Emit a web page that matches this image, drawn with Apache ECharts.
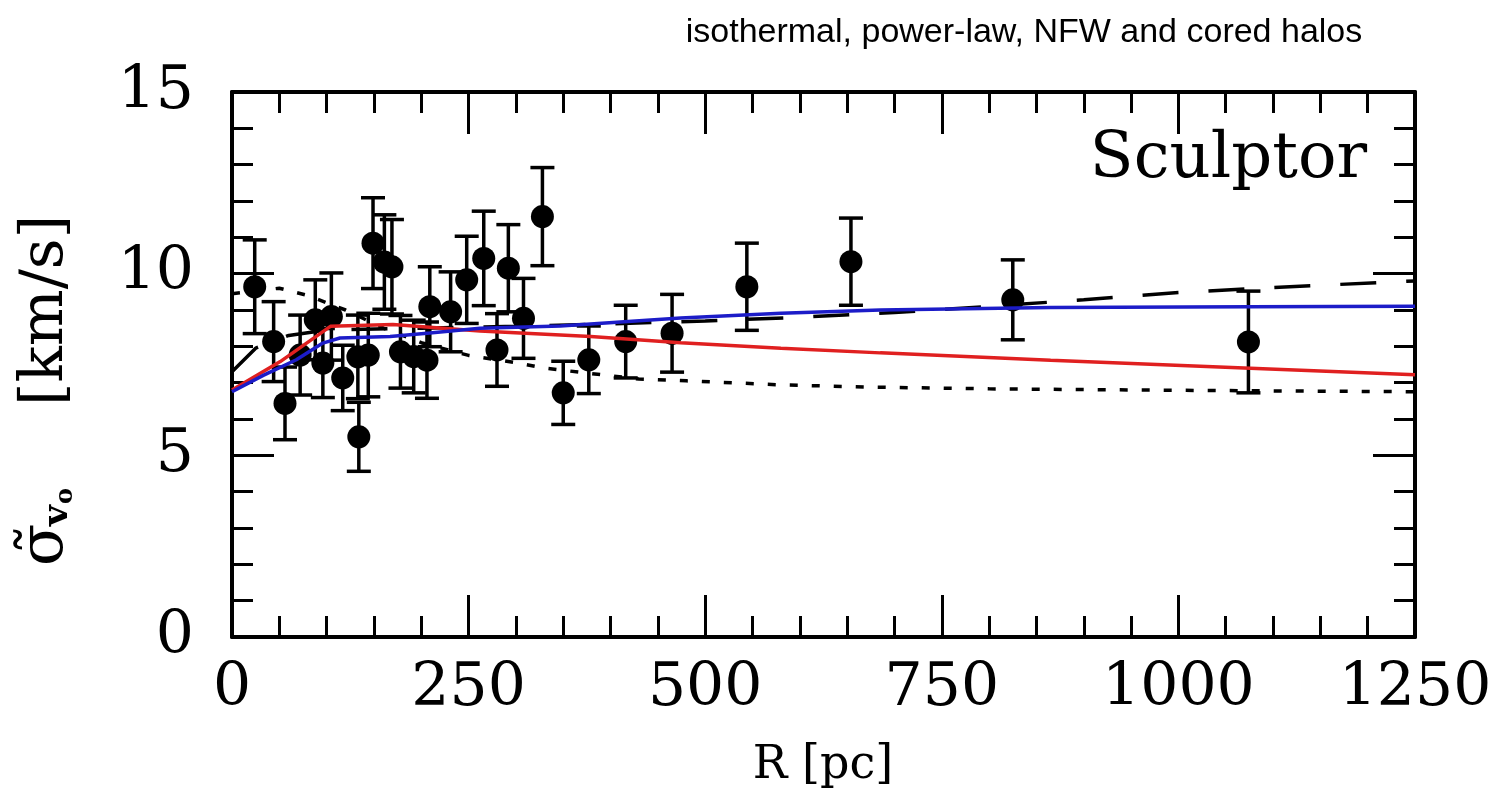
<!DOCTYPE html>
<html><head><meta charset="utf-8">
<script src="https://cdn.jsdelivr.net/npm/echarts@6/dist/echarts.min.js"></script>
<style>html,body{margin:0;padding:0;background:#fff}#c{width:1505px;height:800px}</style>
</head><body><div id="c"></div>
<script>
// ---- data ----
const xTickValues = [0, 250, 500, 750, 1000, 1250];
const yTickValues = [0, 5, 10, 15];
const titleText = 'isothermal, power-law, NFW and cored halos';
const galaxyLabel = 'Sculptor';
const xAxisTitle = 'R [pc]';

// binned velocity dispersion profile: radius [pc], sigma [km/s], error [km/s]
const obsR     = [24, 44, 56, 72, 88, 105, 96, 117, 133, 144, 134, 149, 161, 169, 178, 192, 206, 209, 231, 248, 266, 280, 292, 308, 328, 350, 377, 416, 465, 544, 654, 825, 1074];
const obsSigma = [9.64, 8.13, 6.43, 7.76, 8.73, 8.82, 7.54, 7.13, 7.71, 7.76, 5.51, 10.84, 10.32, 10.19, 7.85, 7.72, 7.62, 9.09, 8.95, 9.83, 10.42, 7.9, 10.15, 8.77, 11.57, 6.72, 7.63, 8.13, 8.36, 9.64, 10.33, 9.28, 8.12];
const obsErr   = [1.29, 1.1, 1.0, 1.1, 1.1, 1.2, 0.95, 0.9, 1.15, 1.15, 0.95, 1.25, 1.3, 1.3, 1.0, 1.0, 1.05, 1.1, 1.1, 1.2, 1.3, 1.0, 1.2, 1.1, 1.35, 0.87, 0.93, 1.0, 1.07, 1.2, 1.2, 1.1, 1.4];

// model curves [R, sigma]
const curveRed = [[0,6.8],[51,7.58],[104,8.55],[170,8.6],[262,8.42],[379,8.27],[474,8.1],[580,7.95],[685,7.82],[865,7.62],[1076,7.4],[1250,7.22]];
const curveBlue = [[0,6.75],[33,7.2],[68,7.63],[96,8.09],[114,8.23],[167,8.27],[209,8.37],[262,8.5],[347,8.56],[474,8.78],[580,8.91],[685,9.0],[865,9.07],[1076,9.09],[1250,9.1]];
const curveDashed = [[0,7.3],[25,7.95],[60,8.3],[100,8.45],[200,8.5],[300,8.55],[400,8.62],[500,8.7],[600,8.8],[700,8.93],[800,9.1],[900,9.28],[1000,9.48],[1100,9.62],[1250,9.8]];
const curveDotted = [[0,9.45],[50,9.6],[80,9.4],[120,9.0],[160,8.5],[200,8.1],[250,7.75],[300,7.55],[330,7.4],[390,7.22],[430,7.1],[480,7.05],[580,6.94],[670,6.88],[800,6.83],[1000,6.79],[1250,6.75]];

// ---- chart ----
const obsData = obsR.map((r, i) => [r, obsSigma[i], obsErr[i]]);
const SERIF = 'DejaVu Serif';
const frame = {color: '#000', width: 4};
function plain(v) { return String(v); }
function xAx(pos, showLabel) {
  return {
    type: 'value', position: pos, min: xTickValues[0], max: xTickValues[xTickValues.length - 1],
    interval: xTickValues[1] - xTickValues[0],
    axisLine: {show: true, onZero: false, lineStyle: frame},
    axisTick: {show: true, inside: true, length: 42, lineStyle: {color: '#000', width: 3}},
    minorTick: {show: true, splitNumber: 5, length: 21, lineStyle: {color: '#000', width: 3}},
    splitLine: {show: false}, minorSplitLine: {show: false},
    axisLabel: {show: showLabel, formatter: plain, fontFamily: SERIF, fontSize: 60, color: '#000', margin: 22}
  };
}
function yAx(pos, showLabel) {
  return {
    type: 'value', position: pos, min: yTickValues[0], max: yTickValues[yTickValues.length - 1],
    interval: yTickValues[1] - yTickValues[0],
    axisLine: {show: true, onZero: false, lineStyle: frame},
    axisTick: {show: true, inside: true, length: 42, lineStyle: {color: '#000', width: 3}},
    minorTick: {show: true, splitNumber: 5, length: 21, lineStyle: {color: '#000', width: 3}},
    splitLine: {show: false}, minorSplitLine: {show: false},
    axisLabel: {show: showLabel, formatter: plain, fontFamily: SERIF, fontSize: 60, color: '#000', margin: 38}
  };
}

const chart = echarts.init(document.getElementById('c'), null, {renderer: 'canvas'});
chart.setOption({
  backgroundColor: '#fff',
  animation: false,
  grid: {left: 232, right: 90, top: 92, bottom: 163, containLabel: false},
  xAxis: [xAx('bottom', true), xAx('top', false)],
  yAxis: [yAx('left', true), yAx('right', false)],
  series: [
    {
      type: 'custom', xAxisIndex: 0, yAxisIndex: 0, data: obsData, z: 2,
      renderItem: function (params, api) {
        const x = api.value(0), y = api.value(1), e = api.value(2);
        const t = api.coord([x, y + e]), b = api.coord([x, y - e]);
        const hw = 12, st = {stroke: '#000', lineWidth: 3.5};
        return {type: 'group', children: [
          {type: 'line', shape: {x1: t[0], y1: t[1], x2: b[0], y2: b[1]}, style: st},
          {type: 'line', shape: {x1: t[0] - hw, y1: t[1], x2: t[0] + hw, y2: t[1]}, style: st},
          {type: 'line', shape: {x1: b[0] - hw, y1: b[1], x2: b[0] + hw, y2: b[1]}, style: st}
        ]};
      }
    },
    {type: 'scatter', data: obsData, symbol: 'circle', symbolSize: 23, itemStyle: {color: '#000', opacity: 1}, z: 3},
    {type: 'line', data: curveDotted, symbol: 'none', z: 4,
     lineStyle: {color: '#000', width: 3.5, type: [8, 14]}},
    {type: 'line', data: curveDashed, symbol: 'none', z: 4,
     lineStyle: {color: '#000', width: 3.5, type: [36, 30]}},
    {type: 'line', data: curveRed, symbol: 'none', z: 5,
     lineStyle: {color: '#e02020', width: 3.5}},
    {type: 'line', data: curveBlue, symbol: 'none', z: 6,
     lineStyle: {color: '#1c1cc8', width: 3.5}}
  ],
  graphic: [
    {type: 'text', x: 1024, y: 33, z: 10,
     style: {text: titleText, font: '34px "Liberation Sans", Arial, sans-serif', fill: '#000', align: 'center', verticalAlign: 'middle'}},
    {type: 'text', x: 1367, y: 160, z: 10,
     style: {text: galaxyLabel, font: '64px "DejaVu Serif", serif', fill: '#000', align: 'right', verticalAlign: 'middle'}},
    {type: 'text', x: 823, y: 766, z: 10,
     style: {text: xAxisTitle, font: '46px "DejaVu Serif", serif', fill: '#000', align: 'center', verticalAlign: 'middle'}},
    {type: 'group', x: 46, y: 566, rotation: Math.PI / 2, z: 10, children: [
      {type: 'text', x: 0, y: 0, style: {text: 'σ\u0303', font: '62px "DejaVu Serif", serif', fill: '#000', align: 'left', verticalAlign: 'middle'}},
      {type: 'text', x: 40, y: 12, style: {text: 'v', font: 'bold 36px "DejaVu Serif", serif', fill: '#000', align: 'left', verticalAlign: 'middle'}},
      {type: 'text', x: 62, y: 20, style: {text: 'o', font: 'bold 24px "DejaVu Serif", serif', fill: '#000', align: 'left', verticalAlign: 'middle'}},
      {type: 'text', x: 160, y: 0, style: {text: '[km/s]', font: '60px "DejaVu Serif", serif', fill: '#000', align: 'left', verticalAlign: 'middle'}}
    ]}
  ]
});
</script>
</body></html>
